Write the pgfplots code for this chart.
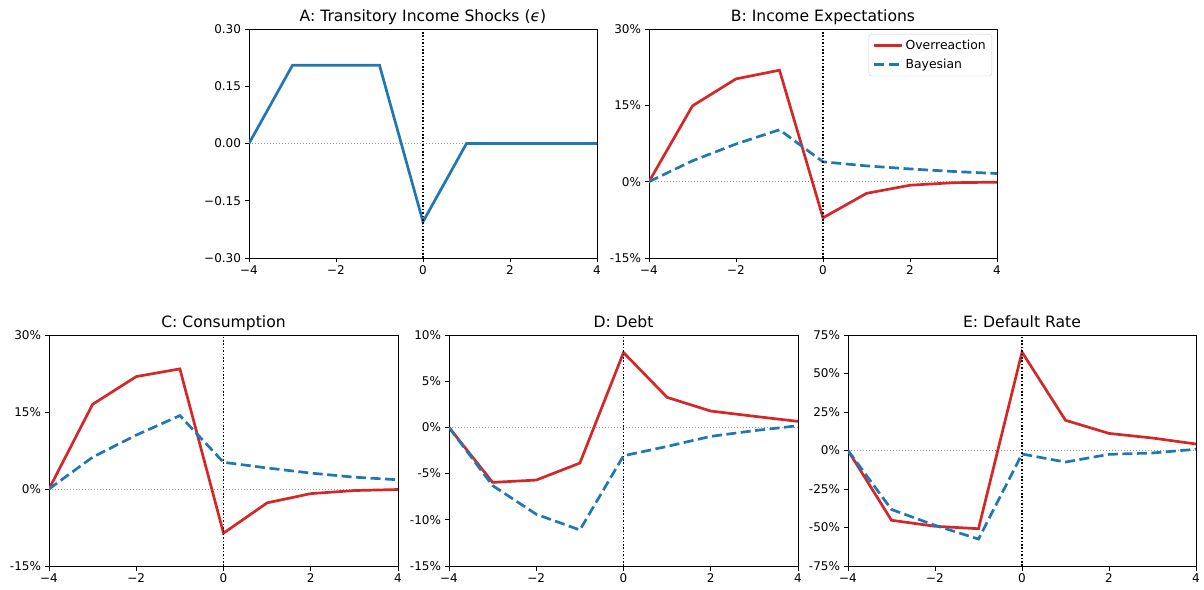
\documentclass[border=0pt]{standalone}
\usepackage{fontspec}
\setmainfont{DejaVu Sans}
\usepackage{pgfplots}
\pgfplotsset{compat=1.18}
\definecolor{mred}{HTML}{D62728}
\definecolor{mblue}{HTML}{1F77B4}
\definecolor{lgray}{HTML}{CCCCCC}
\definecolor{zgray}{HTML}{999999}

\pgfplotsset{
  panel/.style={
    scale only axis, width=348pt, height=229pt, anchor=south west,
    xmin=-4, xmax=4, xtick={-4,-2,0,2,4}, xticklabels={−4,−2,0,2,4},
    tick align=outside, tick pos=left, major tick length=4.5pt,
    axis line style={line width=0.8pt},
    every tick/.style={black, line width=0.8pt},
    tick label style={font=\fontsize{12}{14}\selectfont},
    title style={font=\fontsize{15.6}{18}\selectfont, anchor=base, yshift=1.5pt},
    legend style={font=\fontsize{12.4}{14}\selectfont, draw=lgray, rounded corners=3pt,
      at={(1,1)}, anchor=north east, xshift=-5pt, yshift=-5pt,
      inner xsep=4pt, inner ysep=4pt, row sep=4pt},
    legend cell align=left,
    legend image code/.code={\draw[##1] (0pt,0pt) -- (28pt,0pt);},
  },
  ovr/.style={mred, line width=2.7pt},
  bay/.style={mblue, line width=2.7pt, dash pattern=on 10pt off 4.5pt},
  zl/.style={zgray, line width=0.9pt, dash pattern=on 1pt off 2pt, forget plot},
  vl/.style={black, line width=1.6pt, dash pattern=on 1.6pt off 1.8pt, forget plot},
}

\begin{document}
\begin{tikzpicture}
\useasboundingbox (0pt,0pt) rectangle (1204pt,589pt);

% Panel A
\begin{axis}[panel, at={(249pt,331pt)}, height=229pt,
  title={A: Transitory Income Shocks (\textit{ϵ})},
  ymin=-0.3, ymax=0.3, ytick={-0.3,-0.15,0,0.15,0.3},
  yticklabels={−0.30,−0.15,0.00,0.15,0.30}]
\addplot[zl] coordinates {(-4,0) (4,0)};
\addplot[mblue, line width=2.7pt] coordinates {
(-4,0) (-3,0.205) (-2,0.205) (-1,0.205) (0,-0.205) (1,0) (2,0) (3,0) (4,0)};
\addplot[vl] coordinates {(0,-0.3) (0,0.3)};
\end{axis}

% Panel B
\begin{axis}[panel, at={(649pt,331pt)}, height=229pt,
  title={B: Income Expectations},
  ymin=-15, ymax=30, ytick={-15,0,15,30},
  yticklabels={-15\%,0\%,15\%,30\%}]
\addplot[zl] coordinates {(-4,0) (4,0)};
\addplot[ovr] coordinates {
(-4,0) (-3,14.9) (-2,20.2) (-1,21.9) (0,-7.1) (1,-2.3) (2,-0.7) (3,-0.2) (4,-0.1)};
\addlegendentry{Overreaction}
\addplot[bay] coordinates {
(-4,0) (-3,4.1) (-2,7.4) (-1,10.2) (0,3.9) (1,3.1) (2,2.5) (3,2.0) (4,1.6)};
\addlegendentry{Bayesian}
\addplot[vl] coordinates {(0,-15) (0,30)};
\end{axis}

% Panel C
\begin{axis}[panel, at={(49pt,23pt)}, width=349pt, height=231pt,
  title={C: Consumption},
  ymin=-15, ymax=30, ytick={-15,0,15,30},
  yticklabels={-15\%,0\%,15\%,30\%}]
\addplot[zl] coordinates {(-4,0) (4,0)};
\addplot[ovr] coordinates {
(-4,0) (-3,16.5) (-2,21.9) (-1,23.4) (0,-8.6) (1,-2.7) (2,-0.9) (3,-0.3) (4,-0.1)};
\addplot[bay] coordinates {
(-4,0) (-3,6.2) (-2,10.5) (-1,14.3) (0,5.2) (1,4.1) (2,3.1) (3,2.3) (4,1.8)};
\addplot[vl] coordinates {(0,-15) (0,30)};
\end{axis}

% Panel D
\begin{axis}[panel, at={(449pt,23pt)}, width=349pt, height=231pt,
  title={D: Debt},
  ymin=-15, ymax=10, ytick={-15,-10,-5,0,5,10},
  yticklabels={-15\%,-10\%,-5\%,0\%,5\%,10\%}]
\addplot[zl] coordinates {(-4,0) (4,0)};
\addplot[ovr] coordinates {
(-4,0) (-3,-5.95) (-2,-5.7) (-1,-3.86) (0,8.1) (1,3.25) (2,1.77) (3,1.2) (4,0.65)};
\addplot[bay] coordinates {
(-4,0) (-3,-6.3) (-2,-9.4) (-1,-11.1) (0,-3.07) (1,-2.06) (2,-0.97) (3,-0.35) (4,0.18)};
\addplot[vl] coordinates {(0,-15) (0,10)};
\end{axis}

% Panel E
\begin{axis}[panel, at={(848pt,23pt)}, width=348pt, height=231pt,
  title={E: Default Rate},
  ymin=-75, ymax=75, ytick={-75,-50,-25,0,25,50,75},
  yticklabels={-75\%,-50\%,-25\%,0\%,25\%,50\%,75\%}]
\addplot[zl] coordinates {(-4,0) (4,0)};
\addplot[ovr] coordinates {
(-4,0) (-3,-45.3) (-2,-49.2) (-1,-50.8) (0,63.9) (1,19.6) (2,11.1) (3,8.1) (4,4.2)};
\addplot[bay] coordinates {
(-4,0) (-3,-38.3) (-2,-48.6) (-1,-57.5) (0,-2.3) (1,-7.5) (2,-2.5) (3,-1.6) (4,0.8)};
\addplot[vl] coordinates {(0,-75) (0,75)};
\end{axis}
\end{tikzpicture}
\end{document}
